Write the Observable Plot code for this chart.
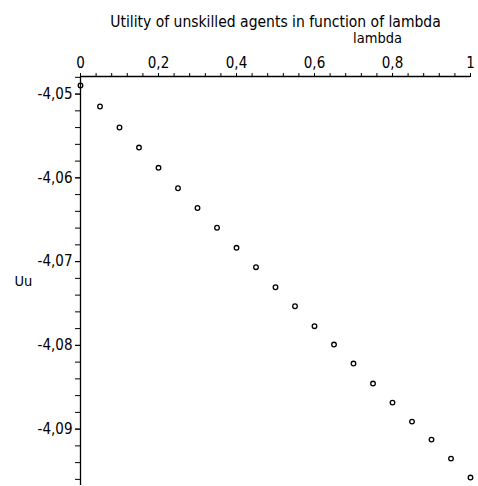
<!DOCTYPE html>
<html>
<head>
<meta charset="utf-8">
<script src="https://cdn.jsdelivr.net/npm/d3@7"></script>
<script src="https://cdn.jsdelivr.net/npm/@observablehq/plot@0.6"></script>
<style>
  html, body { margin: 0; padding: 0; background: #fff; }
</style>
</head>
<body>
<div id="chart"></div>
<script>
const title = "Utility of unskilled agents in function of lambda";
const xLabel = "lambda";
const yLabel = "Uu";
const lambda = [0, 0.05, 0.1, 0.15, 0.2, 0.25, 0.3, 0.35, 0.4, 0.45, 0.5, 0.55, 0.6, 0.65, 0.7, 0.75, 0.8, 0.85, 0.9, 0.95, 1];
const Uu = [-4.04897, -4.05148, -4.05399, -4.05638, -4.05880, -4.06124, -4.06360, -4.06596, -4.06835, -4.07067, -4.07306, -4.07533, -4.07771, -4.07990, -4.08217, -4.08456, -4.08683, -4.08910, -4.09125, -4.09352, -4.09578];
const xMajorTicks = [0, 0.2, 0.4, 0.6, 0.8, 1];
const xMinorTicks = [0, 0.04, 0.08, 0.12, 0.16, 0.2, 0.24, 0.28, 0.32, 0.36, 0.4, 0.44, 0.48, 0.52, 0.56, 0.6, 0.64, 0.68, 0.72, 0.76, 0.8, 0.84, 0.88, 0.92, 0.96, 1];
const yMajorTicks = [-4.05, -4.06, -4.07, -4.08, -4.09];
const yMinorTicks = [-4.048, -4.05, -4.052, -4.054, -4.056, -4.058, -4.06, -4.062, -4.064, -4.066, -4.068, -4.07, -4.072, -4.074, -4.076, -4.078, -4.08, -4.082, -4.084, -4.086, -4.088, -4.09, -4.092, -4.094, -4.096];
const xDomain = [0, 1];
const yDomain = [-4.09673, -4.0479];

const data = lambda.map((l, i) => ({lambda: l, Uu: Uu[i]}));
const fmt = d => String(+(+d).toFixed(3)).replace(".", ",");

const chart = Plot.plot({
  width: 478,
  height: 486,
  marginLeft: 80,
  marginRight: 8,
  marginTop: 76,
  marginBottom: 1,
  style: {
    fontFamily: "'Liberation Sans Narrow', 'DejaVu Sans Condensed', 'Liberation Sans', sans-serif",
    fontSize: "14px",
    color: "#000",
    background: "#fff",
    overflow: "visible"
  },
  x: {domain: xDomain},
  y: {domain: yDomain},
  marks: [
    Plot.axisX(xMinorTicks, {anchor: "top", tickSize: 4, tickFormat: () => "", label: null, strokeWidth: 1}),
    Plot.axisX(xMajorTicks, {anchor: "top", tickSize: 4, tickPadding: 5, tickFormat: fmt, label: null, fontSize: 15}),
    Plot.axisY(yMinorTicks, {anchor: "left", tickSize: 5, tickFormat: () => "", label: null}),
    Plot.axisY(yMajorTicks, {anchor: "left", tickSize: 5, tickPadding: 3, tickFormat: fmt, label: null, fontSize: 15}),
    Plot.ruleY([yDomain[1]], {stroke: "#000", strokeWidth: 1.3}),
    Plot.ruleX([xDomain[0]], {stroke: "#000", strokeWidth: 1.3}),
    Plot.dot(data, {x: "lambda", y: "Uu", r: 2.3, stroke: "#000", fill: "none", strokeWidth: 1.3}),
    Plot.text([title], {frameAnchor: "top", dy: -61, fontSize: 15.5, fill: "#000"}),
    Plot.text([xLabel], {frameAnchor: "top", dx: 102, dy: -44, fontSize: 14.5, fill: "#000"}),
    Plot.text([yLabel], {frameAnchor: "left", dx: -66, textAnchor: "start", fontSize: 14.5, fill: "#000"})
  ]
});
document.getElementById("chart").appendChild(chart);
</script>
</body>
</html>
